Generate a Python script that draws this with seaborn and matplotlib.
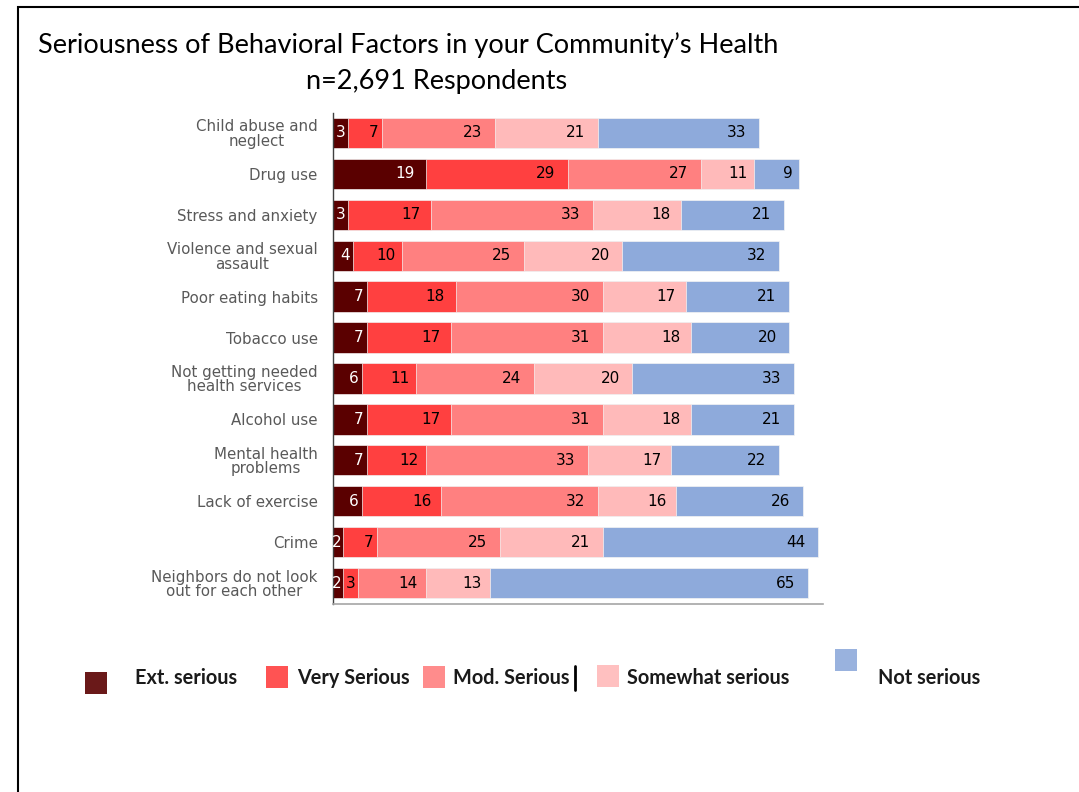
import numpy as np
import pandas as pd
import matplotlib.pyplot as plt
import seaborn as sns
from matplotlib.patches import Rectangle
from matplotlib.lines import Line2D

# Data
factors = [
    "Child abuse and\nneglect",
    "Drug use",
    "Stress and anxiety",
    "Violence and sexual\nassault",
    "Poor eating habits",
    "Tobacco use",
    "Not getting needed\nhealth services",
    "Alcohol use",
    "Mental health\nproblems",
    "Lack of exercise",
    "Crime",
    "Neighbors do not look\nout for each other",
]
ext_serious = [3, 19, 3, 4, 7, 7, 6, 7, 7, 6, 2, 2]
very_serious = [7, 29, 17, 10, 18, 17, 11, 17, 12, 16, 7, 3]
mod_serious = [23, 27, 33, 25, 30, 31, 24, 31, 33, 32, 25, 14]
somewhat_serious = [21, 11, 18, 20, 17, 18, 20, 18, 17, 16, 21, 13]
not_serious = [33, 9, 21, 32, 21, 20, 33, 21, 22, 26, 44, 65]

levels = ["Ext. serious", "Very Serious", "Mod. Serious", "Somewhat serious", "Not serious"]
colors = ["#5a0000", "#ff4040", "#ff8080", "#ffbaba", "#8eaadb"]

df = pd.DataFrame({
    "factor": factors,
    levels[0]: ext_serious,
    levels[1]: very_serious,
    levels[2]: mod_serious,
    levels[3]: somewhat_serious,
    levels[4]: not_serious,
})
cum = df[levels].cumsum(axis=1)

sns.set_style("white")
plt.rcParams["font.family"] = ["DejaVu Sans"]

fig = plt.figure(figsize=(10.79, 7.92), dpi=100)
ax = fig.add_axes([333 / 1079, 1 - 603.5 / 792, 490 / 1079, 491 / 792])

# stacked bars: draw cumulative totals from the outermost segment inwards
for lvl, col in reversed(list(zip(levels, colors))):
    sns.barplot(x=cum[lvl], y=df["factor"], color=col, orient="h", width=0.74,
                saturation=1, edgecolor="#f4f4f4", linewidth=0.5, ax=ax)

# value labels, right aligned inside each segment
for i in range(len(df)):
    for j, lvl in enumerate(levels):
        v = df[lvl].iloc[i]
        end = cum[lvl].iloc[i]
        pad = min(2.6, 0.12 * v)
        ax.text(end - pad, i, str(v), ha="right", va="center", fontsize=11,
                color="white" if j == 0 else "black")

ax.set_xlim(0, 100)
ax.set_ylim(11.5, -0.5)
ax.set_xlabel("")
ax.set_ylabel("")
ax.set_xticks([])
ax.tick_params(axis="y", length=0, pad=11, labelsize=10.8, labelcolor="#595959")
for lab in ax.get_yticklabels():
    lab.set_multialignment("center")
    lab.set_linespacing(0.95)
for s in ["top", "right"]:
    ax.spines[s].set_visible(False)
ax.spines["left"].set_color("#404040")
ax.spines["bottom"].set_color("#a6a6a6")
ax.spines["left"].set_linewidth(1)
ax.spines["bottom"].set_linewidth(1.2)

# titles
fig.text(38 / 1079, 1 - 45 / 792, "Seriousness of Behavioral Factors in your Community\u2019s Health",
         ha="left", va="center", fontsize=19.5, color="black", family=["Lato", "DejaVu Sans"])
fig.text(437 / 1079, 1 - 81 / 792, "n=2,691 Respondents",
         ha="center", va="center", fontsize=19.5, color="black", family=["Lato", "DejaVu Sans"])

# legend built by hand (irregular placement as in the source)
sq_pos = [(96, 683), (277, 677), (434, 677), (608, 676), (846, 660)]
txt_x = [135, 297, 453, 627, 878]
for lvl, col, (sx, sy), tx in zip(levels, colors, sq_pos, txt_x):
    fig.patches.append(Rectangle(((sx - 11) / 1079, 1 - (sy + 11) / 792), 22 / 1079, 22 / 792,
                                 transform=fig.transFigure, facecolor=col, edgecolor="none",
                                 alpha=0.9))
    fig.text(tx / 1079, 1 - 678 / 792, lvl, ha="left", va="center", fontsize=14.3,
             fontweight="bold", color="#1a1a1a", family=["Lato", "DejaVu Sans"])
fig.lines.append(Line2D([575 / 1079, 575 / 1079], [1 - 666 / 792, 1 - 690 / 792],
                        transform=fig.transFigure, color="black", linewidth=2))

# frame around the figure
fig.patches.append(Rectangle((18 / 1079, -0.05), 1.1, 1 - 7 / 792 + 0.05,
                             transform=fig.transFigure, facecolor="none",
                             edgecolor="black", linewidth=1.5))

fig.savefig("out.png", dpi=100)
